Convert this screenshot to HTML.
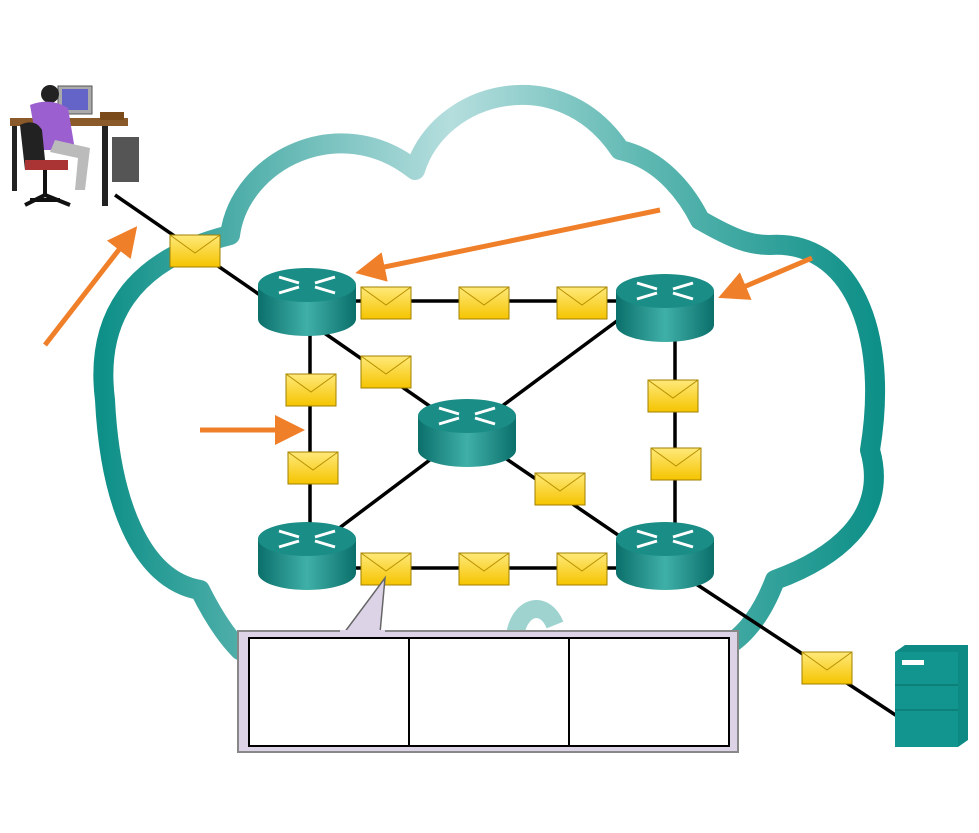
<!DOCTYPE html>
<html><head><meta charset="utf-8"><style>html,body{margin:0;padding:0;background:#fff}svg{display:block}</style></head>
<body>
<svg width="979" height="833" viewBox="0 0 979 833" xmlns="http://www.w3.org/2000/svg">
<defs>
<linearGradient id="cg" x1="0" y1="0" x2="1" y2="0">
<stop offset="0" stop-color="#0e9088"/><stop offset="0.45" stop-color="#b5dede"/><stop offset="0.7" stop-color="#5fb8b2"/><stop offset="1" stop-color="#0e9088"/>
</linearGradient>
<linearGradient id="rg" x1="0" y1="0" x2="1" y2="0">
<stop offset="0" stop-color="#0b6f6a"/><stop offset="0.5" stop-color="#3fb0a8"/><stop offset="1" stop-color="#0b6f6a"/>
</linearGradient>
<linearGradient id="eg" x1="0" y1="0" x2="0" y2="1">
<stop offset="0" stop-color="#ffe97a"/><stop offset="1" stop-color="#f5c400"/>
</linearGradient>
<g id="r">
<path d="M-49,0 v34 a49,17 0 0 0 98,0 v-34 z" fill="url(#rg)"/>
<ellipse cx="0" cy="0" rx="49" ry="17" fill="#1a8d86"/>
<g stroke="#fff" stroke-width="3" fill="none">
<path d="M-28,-8 L-8,-2 M28,8 L8,2 M-28,8 L-8,2 M28,-8 L8,-2"/>
</g>
</g>
<g id="e">
<rect x="0" y="0" width="50" height="32" fill="url(#eg)" stroke="#a08000" stroke-width="1"/>
<path d="M0,0 L25,18 L50,0" fill="none" stroke="#b89000" stroke-width="1"/>
</g>
<marker id="ah" markerWidth="6" markerHeight="6" refX="3" refY="3" orient="auto" markerUnits="strokeWidth"><path d="M0,0 L6,3 L0,6 z" fill="#f07f2a"/></marker>
</defs>
<path d="M105,400 C95,320 130,260 230,235 C240,160 340,110 415,170 C440,90 560,60 620,150 C665,160 690,200 700,220 C735,240 750,245 770,245 C850,240 890,330 870,450 C890,520 830,560 775,580 C760,620 740,640 720,650 L240,650 C220,630 205,600 200,590 C140,580 110,500 105,400 Z" fill="none" stroke="url(#cg)" stroke-width="20" stroke-linejoin="round"/>
<path d="M515,635 C520,605 545,600 555,625" fill="none" stroke="#9fd3d0" stroke-width="18"/>
<g stroke="#000" stroke-width="3.5" fill="none">
<line x1="115" y1="195" x2="260" y2="295"/>
<line x1="307" y1="301" x2="665" y2="301"/>
<line x1="310" y1="310" x2="310" y2="560"/>
<line x1="675" y1="310" x2="675" y2="560"/>
<line x1="320" y1="330" x2="467" y2="432"/>
<line x1="467" y1="432" x2="625" y2="315"/>
<line x1="467" y1="432" x2="330" y2="535"/>
<line x1="467" y1="432" x2="640" y2="550"/>
<line x1="307" y1="568" x2="665" y2="568"/>
<line x1="690" y1="580" x2="897" y2="716"/>
</g>
<use href="#r" x="307" y="285"/>
<use href="#r" x="665" y="291"/>
<use href="#r" x="467" y="416"/>
<use href="#r" x="307" y="539"/>
<use href="#r" x="665" y="539"/>
<use href="#e" x="170" y="235"/><use href="#e" x="361" y="287"/><use href="#e" x="459" y="287"/><use href="#e" x="557" y="287"/>
<use href="#e" x="361" y="356"/><use href="#e" x="286" y="374"/><use href="#e" x="288" y="452"/><use href="#e" x="648" y="380"/>
<use href="#e" x="651" y="448"/><use href="#e" x="535" y="473"/><use href="#e" x="361" y="553"/><use href="#e" x="459" y="553"/>
<use href="#e" x="557" y="553"/><use href="#e" x="802" y="652"/>
<g stroke="#f07f2a" stroke-width="5" marker-end="url(#ah)">
<line x1="45" y1="345" x2="128" y2="238"/>
<line x1="660" y1="210" x2="370" y2="270"/>
<line x1="812" y1="258" x2="732" y2="292"/>
<line x1="200" y1="430" x2="290" y2="430"/>
</g>
<rect x="238" y="631" width="500" height="121" fill="#dcd3e6" stroke="#888" stroke-width="2"/>
<path d="M344,633 L385,578 L380,633 Z" fill="#dcd3e6" stroke="#666" stroke-width="1.5"/>
<rect x="340" y="630" width="45" height="5" fill="#dcd3e6"/>
<rect x="249" y="638" width="480" height="108" fill="#fff" stroke="#000" stroke-width="2"/>
<line x1="409" y1="638" x2="409" y2="746" stroke="#000" stroke-width="2"/>
<line x1="569" y1="638" x2="569" y2="746" stroke="#000" stroke-width="2"/>
<g>
<path d="M895,652 L905,645 L968,645 L968,740 L958,747 L895,747 Z" fill="#0e8a84"/>
<rect x="895" y="652" width="63" height="95" fill="#12958e"/>
<rect x="902" y="660" width="22" height="5" fill="#fff"/>
<line x1="895" y1="685" x2="958" y2="685" stroke="#0a6a65"/>
<line x1="895" y1="710" x2="958" y2="710" stroke="#0a6a65"/>
</g>
<g>
<rect x="58" y="86" width="34" height="28" fill="#aaa" stroke="#555"/>
<rect x="62" y="89" width="26" height="21" fill="#6464c8"/>
<rect x="10" y="118" width="118" height="8" fill="#8a5a2a"/>
<rect x="100" y="112" width="24" height="8" fill="#7a4a1a"/>
<rect x="102" y="126" width="6" height="80" fill="#222"/>
<rect x="112" y="137" width="27" height="45" fill="#555"/>
<rect x="12" y="126" width="5" height="65" fill="#222"/>
<circle cx="50" cy="94" r="9" fill="#222"/>
<path d="M30,105 Q50,97 68,108 L75,150 L38,150 Z" fill="#9b5fcf"/>
<path d="M55,140 L90,148 L85,190 L75,190 L78,158 L50,152 Z" fill="#bbb"/>
<path d="M20,125 Q35,118 42,130 L45,160 L60,162 L60,170 L25,170 Z" fill="#222"/>
<path d="M25,160 L68,160 L68,170 L25,170 Z" fill="#a33"/>
<path d="M45,170 L45,195 M25,205 L45,195 L70,205 M30,200 L60,200" stroke="#111" stroke-width="4" fill="none"/>
</g>
</svg>
</body></html>
